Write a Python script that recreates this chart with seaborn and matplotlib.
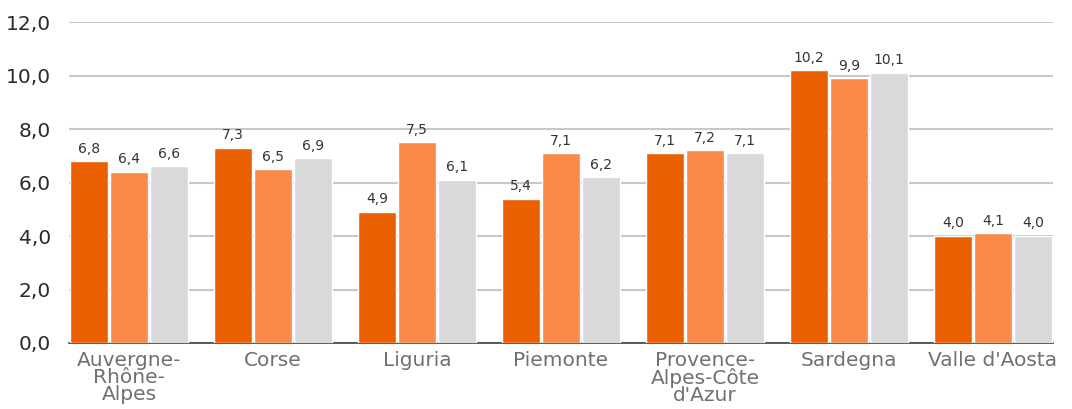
import seaborn as sns
import matplotlib.pyplot as plt
import pandas as pd

regioni = ["Auvergne-\nRhône-\nAlpes", "Corse", "Liguria", "Piemonte",
           "Provence-\nAlpes-Côte\nd'Azur", "Sardegna", "Valle d'Aosta"]
serie = ["Serie 1", "Serie 2", "Serie 3"]
serie1 = [6.8, 7.3, 4.9, 5.4, 7.1, 10.2, 4.0]
serie2 = [6.4, 6.5, 7.5, 7.1, 7.2, 9.9, 4.1]
serie3 = [6.6, 6.9, 6.1, 6.2, 7.1, 10.1, 4.0]
colori = ["#EA5F00", "#FB8A48", "#D9D9D9"]

df = pd.DataFrame({
    "regione": regioni * 3,
    "serie": [serie[0]] * 7 + [serie[1]] * 7 + [serie[2]] * 7,
    "valore": serie1 + serie2 + serie3,
})

sns.set_style("white")
plt.rcParams['font.family'] = ['DejaVu Sans']

fig = plt.figure(figsize=(10.72, 4.09), dpi=100)
ax = fig.add_axes([0.0644, 0.1614, 0.9179, 0.7846])

larg = 120 / 144
sns.barplot(data=df, x="regione", y="valore", hue="serie", palette=colori,
            width=larg, gap=0.05, saturation=1, legend=False, ax=ax, zorder=3)

for cont in ax.containers:
    ax.bar_label(cont, labels=[f"{v:.1f}".replace(".", ",") for v in cont.datavalues],
                 padding=4, fontsize=10, color="#333333")

ax.set_ylim(0, 12)
ax.set_xlim(-larg / 2, 6 + larg / 2)
ax.set_yticks([0, 2, 4, 6, 8, 10, 12])
ax.set_yticklabels([f"{t:.1f}".replace(".", ",") for t in [0, 2, 4, 6, 8, 10, 12]],
                   fontsize=14.5, color="#2b2b2b")
ax.grid(axis="y", color="#C8C8C8", linewidth=1.5, zorder=0)
ax.set_axisbelow(True)
for lab in ax.get_xticklabels():
    lab.set_fontsize(14.5)
    lab.set_color("#707070")
    lab.set_linespacing(0.85)
ax.tick_params(axis="both", length=0, pad=6)
ax.tick_params(axis="y", pad=13)
ax.set_xlabel("")
ax.set_ylabel("")
for s in ["top", "right", "left"]:
    ax.spines[s].set_visible(False)
ax.spines["bottom"].set_color("#404040")
ax.spines["bottom"].set_linewidth(1.2)

fig.savefig("out.png", dpi=100)
